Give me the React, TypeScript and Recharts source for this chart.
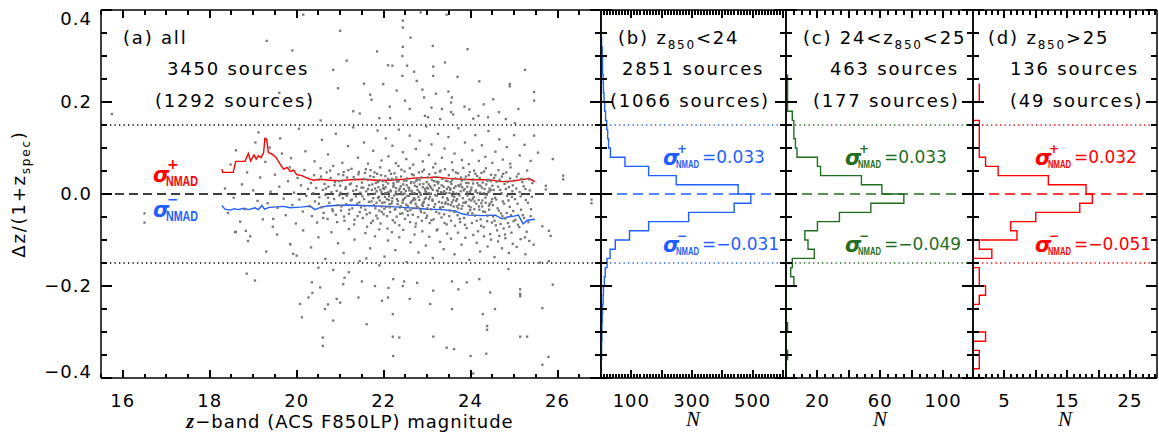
import React from 'react';
import { ComposedChart, Scatter, Line, XAxis, YAxis, ReferenceLine } from 'recharts';

const WIDTH = 1159;
const HEIGHT = 441;
const TOP = 10;
const BOTTOM = 378;

const RED = '#ff0000';
const BLUE = '#1f5fff';
const GREEN = '#1f6f1f';

// ---- ticks ----
const range = (a: number, b: number, step: number) => {
  const out: number[] = [];
  for (let v = a; v <= b + 1e-9; v += step) out.push(Math.round(v * 1000) / 1000);
  return out;
};
const DZ_DOMAIN: [number, number] = [-0.4, 0.4];
const dzTicks = range(-0.4, 0.4, 0.05);
const dzMajors = [-0.4, -0.2, 0, 0.2, 0.4];
const dzLabels = [-0.4, -0.2, 0, 0.2, 0.4];
const magTicks = range(15.5, 27, 0.5);
const magMajors = [16, 18, 20, 22, 24, 26];
const magLabels = [16, 18, 20, 22, 24, 26];
const nTicksB = range(0, 610, 10);
const nMajorsB = [100, 200, 300, 400, 500, 600];
const nLabelsB = [100, 300, 500];
const nTicksC = range(0, 115, 5);
const nMajorsC = [20, 40, 60, 80, 100];
const nLabelsC = [20, 60, 100];
const nTicksD = range(0, 29, 1);
const nMajorsD = [5, 10, 15, 20, 25];
const nLabelsD = [5, 15, 25];

// ---- panel (a): sources, z magnitude vs dz/(1+z) ----
const coreSources: [number, number][] = [
  [18.35,0.012],[18.42,-0.041],[18.48,0.064],[18.55,-0.008],[18.6,0.095],[18.7,-0.06],[18.74,0.021],[18.8,-0.033],[18.86,0.047],[18.93,-0.092],
  [19.0,0.008],[19.05,0.112],[19.1,-0.015],[19.16,0.036],[19.22,-0.055],[19.28,0.07],[19.33,-0.02],[19.4,0.005],[19.45,-0.071],[19.5,0.042],
  [19.56,-0.03],[19.6,0.016],[19.66,0.088],[19.7,-0.01],[19.75,-0.046],[19.8,0.028],[19.84,0.058],[19.9,-0.024],[19.94,0.003],[19.98,-0.064],
  [20.02,0.035],[20.06,-0.012],[20.1,0.019],[20.14,-0.038],[20.18,0.052],[20.22,-0.004],[20.26,0.011],[20.3,-0.027],
  [20.33,0.024],[20.35,-0.048],[20.38,0.002],[20.4,0.041],[20.42,-0.016],[20.45,0.013],[20.47,-0.062],[20.5,0.031],[20.52,-0.007],[20.55,0.056],
  [20.57,-0.029],[20.6,0.009],[20.62,-0.041],[20.64,0.022],[20.66,-0.002],[20.69,0.047],[20.71,-0.054],[20.73,0.016],[20.75,-0.019],[20.78,0.035],
  [20.8,0.004],[20.82,-0.033],[20.84,0.061],[20.86,-0.011],[20.88,0.026],[20.9,-0.045],[20.92,0.007],[20.94,-0.024],[20.96,0.043],[20.98,-0.003],
  [21.0,0.018],[21.02,-0.036],[21.04,0.029],[21.06,-0.009],[21.08,0.048],[21.1,-0.058],[21.12,0.011],[21.14,-0.022],[21.16,0.036],[21.18,0.001],
  [21.2,-0.043],[21.22,0.021],[21.24,-0.014],[21.26,0.055],[21.28,-0.031],[21.3,0.007],[21.32,-0.066],[21.34,0.032],[21.36,-0.005],[21.38,0.017],
  [21.4,-0.048],[21.42,0.043],[21.44,-0.018],[21.46,0.003],[21.48,-0.029],[21.5,0.025],
  [21.52,-0.052],[21.53,0.014],[21.55,-0.011],[21.57,0.046],[21.58,-0.034],[21.6,0.006],[21.62,-0.071],[21.63,0.031],[21.65,-0.002],[21.67,0.019],
  [21.68,-0.041],[21.7,0.052],[21.72,-0.016],[21.73,0.009],[21.75,-0.058],[21.77,0.037],[21.78,-0.024],[21.8,0.001],[21.82,0.024],[21.83,-0.047],
  [21.85,0.044],[21.87,-0.008],[21.88,0.015],[21.9,-0.036],[21.92,0.058],[21.93,-0.064],[21.95,0.004],[21.97,-0.019],[21.98,0.028],
  [22.0,-0.044],[22.01,0.011],[22.03,-0.006],[22.04,0.039],[22.06,-0.028],[22.07,0.002],[22.09,-0.075],[22.1,0.023],[22.12,-0.013],[22.13,0.051],
  [22.15,-0.039],[22.16,0.008],[22.18,-0.021],[22.19,0.033],[22.21,-0.057],[22.22,0.016],[22.24,-0.003],[22.25,0.045],[22.27,-0.032],[22.28,0.005],
  [22.3,-0.049],[22.31,0.027],[22.33,-0.015],[22.34,0.061],[22.36,-0.068],[22.37,0.012],[22.39,-0.026],[22.4,0.038],[22.42,-0.001],[22.43,-0.042],
  [22.45,0.021],[22.46,-0.011],[22.48,0.049],[22.49,-0.054],
  [22.51,0.007],[22.52,-0.023],[22.54,0.034],[22.55,-0.037],[22.57,0.014],[22.58,-0.004],[22.6,0.056],[22.61,-0.061],[22.63,0.024],[22.64,-0.016],
  [22.66,0.003],[22.67,-0.045],[22.69,0.041],[22.7,-0.009],[22.72,0.018],[22.73,-0.071],[22.75,0.029],[22.76,-0.027],[22.78,0.009],[22.79,-0.05],
  [22.81,0.047],[22.82,-0.013],[22.84,0.002],[22.85,-0.034],[22.87,0.036],[22.88,-0.058],[22.9,0.015],[22.91,-0.019],[22.93,0.053],[22.94,-0.041],
  [22.96,0.006],[22.97,-0.008],[22.99,0.026],
  [23.0,-0.047],[23.02,0.012],[23.03,-0.024],[23.05,0.043],[23.06,-0.063],[23.08,0.001],[23.09,-0.033],[23.11,0.031],[23.12,-0.012],[23.14,0.058],
  [23.15,-0.055],[23.17,0.019],[23.18,-0.002],[23.2,0.037],[23.21,-0.039],[23.23,0.008],[23.24,-0.077],[23.26,0.026],[23.27,-0.017],[23.29,0.049],
  [23.3,-0.029],[23.32,0.004],[23.33,-0.051],[23.35,0.033],[23.36,-0.007],[23.38,0.016],[23.39,-0.044],[23.41,0.054],[23.42,-0.021],[23.44,0.002],
  [23.45,-0.066],[23.47,0.028],[23.48,-0.013],
  [23.5,0.041],[23.52,-0.036],[23.53,0.009],[23.55,-0.058],[23.56,0.022],[23.58,-0.004],[23.59,0.052],[23.61,-0.027],[23.62,0.013],[23.64,-0.069],
  [23.65,0.034],[23.67,-0.015],[23.68,0.001],[23.7,-0.046],[23.71,0.045],[23.73,-0.023],[23.74,0.017],[23.76,-0.061],[23.77,0.006],[23.79,-0.032],
  [23.8,0.029],[23.82,-0.009],[23.83,0.057],[23.85,-0.052],[23.86,0.011],[23.88,-0.019],[23.89,0.038],[23.91,-0.074],[23.92,0.004],[23.94,-0.041],
  [23.95,0.024],[23.97,-0.012],[23.98,0.048],
  [24.0,-0.029],[24.02,0.014],[24.03,-0.063],[24.05,0.032],[24.07,-0.006],[24.08,0.051],[24.1,-0.047],[24.12,0.008],[24.13,-0.021],[24.15,0.039],
  [24.17,-0.081],[24.18,0.019],[24.2,-0.034],[24.22,0.003],[24.23,-0.055],[24.25,0.046],[24.27,-0.014],[24.28,0.025],[24.3,-0.072],[24.32,0.011],
  [24.33,-0.039],[24.35,0.056],[24.37,-0.002],[24.38,-0.059],[24.4,0.031],[24.42,-0.025],[24.43,0.006],[24.45,-0.087],[24.47,0.042],[24.48,-0.017],
  [24.5,0.018],[24.52,-0.049],[24.54,0.035],[24.56,-0.008],[24.58,-0.068],[24.6,0.027],[24.62,-0.031],[24.64,0.052],[24.66,-0.091],[24.68,0.009],
  [24.7,-0.042],[24.72,0.038],[24.74,-0.016],[24.76,-0.075],[24.78,0.022],[24.8,-0.053],[24.82,0.047],[24.84,-0.004],[24.86,-0.063],[24.88,0.015],
  [24.9,-0.028],[24.92,0.058],[24.94,-0.084],[24.96,0.006],[24.98,-0.037],
  [25.0,0.029],[25.03,-0.056],[25.05,0.012],[25.08,-0.021],[25.1,0.044],[25.12,-0.072],[25.15,-0.005],[25.17,0.033],[25.2,-0.046],[25.22,0.017],
  [25.25,-0.094],[25.27,-0.013],[25.3,0.051],[25.33,-0.061],[25.36,0.008],[25.39,-0.033],[25.42,0.024],
];

const coreSourcesB: [number, number][] = [
  [20.51,-0.021],[20.56,0.038],[20.61,-0.052],[20.67,0.012],[20.72,-0.008],[20.77,0.051],[20.83,-0.037],[20.87,0.019],[20.93,-0.061],[20.97,0.028],
  [21.01,0.003],[21.03,-0.027],[21.07,0.041],[21.09,-0.049],[21.13,0.015],[21.15,-0.004],[21.19,0.052],[21.21,-0.034],[21.25,0.023],[21.27,-0.012],
  [21.31,0.037],[21.33,-0.056],[21.37,0.009],[21.39,-0.021],[21.43,0.048],[21.45,-0.039],[21.49,0.014],
  [21.51,-0.005],[21.54,0.033],[21.56,-0.026],[21.59,0.054],[21.61,-0.044],[21.64,0.011],[21.66,-0.017],[21.69,0.039],[21.71,-0.063],[21.74,0.021],
  [21.76,-0.009],[21.79,0.047],[21.81,-0.031],[21.84,0.006],[21.86,-0.053],[21.89,0.029],[21.91,-0.014],[21.94,0.041],[21.96,-0.039],[21.99,0.013],
  [22.02,-0.018],[22.05,0.027],[22.08,-0.048],[22.11,0.004],[22.14,-0.029],[22.17,0.044],[22.2,-0.009],[22.23,0.019],[22.26,-0.062],[22.29,0.036],
  [22.32,-0.022],[22.35,0.008],[22.38,-0.043],[22.41,0.053],[22.44,-0.014],[22.47,0.029],[22.5,-0.033],[22.035,0.002],[22.125,-0.005],[22.215,0.031],
  [22.305,-0.011],[22.395,0.017],[22.485,0.001],
  [22.53,0.019],[22.56,-0.046],[22.59,0.008],[22.62,-0.019],[22.65,0.043],[22.68,-0.031],[22.71,0.002],[22.74,-0.064],[22.77,0.032],[22.8,-0.006],
  [22.83,0.021],[22.86,-0.039],[22.89,0.049],[22.92,-0.017],[22.95,0.011],[22.98,-0.052],[22.545,-0.004],[22.635,0.026],[22.725,-0.012],[22.815,0.005],
  [22.905,-0.026],[22.995,0.014],
  [23.01,0.036],[23.04,-0.011],[23.07,0.017],[23.1,-0.057],[23.13,0.009],[23.16,-0.028],[23.19,0.046],[23.22,-0.004],[23.25,0.023],[23.28,-0.042],
  [23.31,0.051],[23.34,-0.019],[23.37,0.003],[23.4,-0.063],[23.43,0.029],[23.46,-0.009],[23.49,0.015],[23.035,0.002],[23.125,-0.015],[23.215,0.027],
  [23.305,-0.031],[23.395,0.006],[23.485,-0.022],
  [23.51,-0.048],[23.54,0.026],[23.57,-0.018],[23.6,0.004],[23.63,-0.039],[23.66,0.047],[23.69,-0.011],[23.72,0.019],[23.75,-0.054],[23.78,0.036],
  [23.81,-0.026],[23.84,0.008],[23.87,-0.067],[23.9,0.024],[23.93,-0.003],[23.96,0.041],[23.99,-0.035],[23.535,0.012],[23.625,-0.006],[23.715,-0.031],
  [23.805,0.015],[23.895,-0.017],[23.985,0.005],
  [24.01,0.009],[24.04,-0.042],[24.06,0.023],[24.09,-0.016],[24.11,0.044],[24.14,-0.058],[24.16,0.002],[24.19,-0.027],[24.21,0.035],[24.24,-0.069],
  [24.26,0.014],[24.29,-0.038],[24.31,0.049],[24.34,-0.008],[24.36,0.021],[24.39,-0.047],[24.41,0.004],[24.44,-0.021],[24.46,0.028],[24.49,-0.062],
  [24.055,-0.01],[24.245,-0.02],[24.435,0.012],
  [24.51,-0.024],[24.53,0.009],[24.55,-0.058],[24.57,0.041],[24.59,-0.012],[24.61,-0.079],[24.63,0.016],[24.65,-0.036],[24.67,0.031],[24.69,-0.065],
  [24.71,0.002],[24.73,-0.048],[24.75,0.044],[24.77,-0.021],[24.79,-0.088],[24.81,0.011],[24.83,-0.041],[24.85,0.026],[24.87,-0.014],[24.89,-0.071],
  [24.91,0.034],[24.93,-0.046],[24.95,-0.006],[24.97,0.019],[24.99,-0.059],
  [25.02,-0.011],[25.06,0.038],[25.09,-0.067],[25.13,0.004],[25.16,-0.034],[25.19,0.026],[25.23,-0.052],[25.26,0.011],[25.29,-0.082],[25.32,-0.019],
  [25.35,0.032],[25.38,-0.048],[25.41,-0.006],
];

const coreSourcesC: [number, number][] = [
  [21.805,0.012],[21.835,-0.019],[21.865,0.026],[21.895,-0.006],[21.925,0.009],[21.955,-0.027],[21.985,0.019],[22.015,-0.032],[22.045,0.015],[22.075,-0.011],
  [22.105,0.033],[22.135,-0.022],[22.165,0.006],[22.195,-0.016],[22.225,0.024],[22.255,-0.034],[22.285,0.013],[22.315,-0.001],[22.345,0.028],[22.375,-0.029],
  [22.405,0.004],[22.435,-0.019],[22.465,0.011],[22.495,-0.008],[22.525,0.029],[22.555,-0.026],[22.585,0.013],[22.615,-0.035],[22.645,0.007],[22.675,-0.013],
  [22.705,0.025],[22.735,-0.021],[22.765,0.016],[22.795,-0.03],[22.825,0.031],[22.855,-0.002],[22.885,-0.023],[22.915,0.022],[22.945,-0.011],[22.975,0.004],
  [23.005,-0.031],[23.035,0.021],[23.065,-0.006],[23.095,0.013],[23.155,0.028],[23.185,-0.022],[23.245,0.006],[23.275,0.013],[23.335,0.019],[23.365,-0.028],
  [23.425,-0.018],[23.455,0.011],[23.515,0.002],[23.545,-0.024],[23.575,0.03],[23.605,-0.013],[23.655,0.017],[23.685,-0.027],[23.745,-0.003],[23.775,0.021],
  [23.835,-0.019],[23.865,0.032],[23.925,0.016],[23.955,-0.026],[24.015,-0.014],[24.045,0.03],[24.085,-0.033],[24.115,0.005],[24.155,0.024],[24.185,-0.013],
  [24.225,0.018],[24.265,-0.027],[24.305,0.002],[24.345,-0.019],[24.385,0.029],[24.425,-0.034],[24.465,0.009],[24.495,-0.011],
];

const midSources: [number, number][] = [
  [19.12,0.134],[19.38,0.101],[19.62,0.121],[19.87,0.078],[20.05,0.142],[20.2,0.093],[20.41,0.071],[20.58,0.118],[20.72,0.086],[20.9,0.131],
  [21.05,0.068],[21.18,0.104],[21.3,0.145],[21.41,0.079],[21.55,0.112],[21.64,0.066],[21.76,0.094],[21.86,0.138],[21.95,0.073],[22.05,0.121],
  [22.11,0.082],[22.2,0.105],[22.28,0.067],[22.35,0.14],[22.44,0.091],[22.52,0.076],[22.6,0.127],[22.68,0.064],[22.74,0.098],[22.83,0.116],
  [22.9,0.071],[22.98,0.147],[23.04,0.085],[23.1,0.108],[23.19,0.066],[23.25,0.131],[23.34,0.079],[23.4,0.099],[23.49,0.124],[23.57,0.069],
  [23.63,0.088],[23.72,0.143],[23.8,0.074],[23.87,0.112],[23.96,0.065],[24.04,0.095],[24.11,0.128],[24.19,0.072],[24.26,0.106],[24.34,0.081],
  [24.41,0.137],[24.5,0.068],[24.57,0.092],[24.66,0.119],[24.74,0.075],[24.83,0.102],[24.91,0.066],[25.0,0.128],[25.13,0.084],[25.24,0.107],
  [25.38,0.072],[25.55,0.09],
  [18.6,-0.082],[18.88,-0.102],[19.3,-0.125],[19.55,-0.088],[19.85,-0.109],[20.0,-0.134],[20.15,-0.079],[20.33,-0.116],[20.5,-0.094],[20.66,-0.141],
  [20.8,-0.083],[20.95,-0.107],[21.08,-0.128],[21.2,-0.076],[21.33,-0.099],[21.45,-0.146],[21.58,-0.085],[21.69,-0.118],[21.8,-0.092],[21.9,-0.077],
  [22.02,-0.136],[22.1,-0.101],[22.19,-0.083],[22.27,-0.122],[22.36,-0.094],[22.45,-0.078],[22.53,-0.148],[22.62,-0.105],[22.71,-0.088],[22.8,-0.127],
  [22.89,-0.081],[22.97,-0.112],[23.05,-0.093],[23.13,-0.139],[23.22,-0.079],[23.3,-0.104],[23.38,-0.12],[23.46,-0.086],[23.55,-0.097],[23.63,-0.131],
  [23.71,-0.084],[23.79,-0.11],[23.88,-0.095],[23.97,-0.143],[24.06,-0.089],[24.14,-0.106],[24.22,-0.125],[24.31,-0.092],[24.39,-0.114],[24.47,-0.099],
  [24.55,-0.137],[24.63,-0.103],[24.72,-0.118],[24.8,-0.096],[24.88,-0.128],[24.97,-0.108],[25.06,-0.115],[25.15,-0.098],[25.26,-0.131],[25.35,-0.102],
  [25.45,-0.11],
];

const outlierSources: [number, number][] = [
  [15.75,0.174],[19.31,0.333],[19.9,0.312],[20.84,0.27],[21.0,0.355],[21.3,0.18],[21.69,0.216],[21.72,0.205],[21.99,0.239],[22.15,0.165],
  [22.2,0.279],[22.1,0.28],[22.14,0.19],[22.44,0.377],[22.44,0.362],[22.44,0.32],[22.43,0.3],[22.43,0.257],[22.49,0.203],[22.54,0.279],
  [22.7,0.266],[22.76,0.246],[22.89,0.227],[22.93,0.21],[22.95,0.17],[23.02,0.167],[23.1,0.188],[23.13,0.322],[23.14,0.277],[23.14,0.257],
  [23.2,0.218],[23.3,0.163],[23.34,0.185],[23.41,0.286],[23.49,0.223],[23.55,0.199],[23.55,0.178],[23.57,0.21],[23.6,0.173],[23.86,0.19],
  [23.93,0.315],[23.97,0.184],[24.06,0.164],[24.18,0.17],[24.4,0.167],[24.52,0.206],[24.81,0.163],[24.9,0.239],[24.9,0.234],[25.02,0.154],
  [25.46,0.222],[25.46,0.203],[25.46,0.127],[25.89,0.076],[26.13,0.04],[26.13,0.032],[25.73,0.018],[25.73,0.01],
  [20.3,0.205],[20.55,0.16],[20.95,0.23],[21.15,0.29],[21.45,0.175],[21.55,0.24],[21.85,0.31],[21.9,0.165],[22.3,0.225],[22.6,0.185],
  [22.62,0.34],[23.7,0.255],[24.2,0.245],[24.3,0.195],[24.65,0.178],[25.1,0.185],[25.25,0.27],[19.6,0.22],[20.15,0.39],[22.85,0.395],[23.45,0.39],
  [16.5,-0.042],[16.5,-0.062],[18.58,-0.083],[18.83,-0.08],[18.85,-0.173],[19.04,-0.188],[19.46,-0.054],[19.85,-0.109],[19.92,-0.13],[20.08,-0.239],
  [20.12,-0.268],[20.27,-0.225],[20.35,-0.192],[20.36,-0.215],[20.54,-0.203],[20.6,-0.312],[20.6,-0.33],[20.65,-0.25],[20.72,-0.24],[20.84,-0.275],
  [20.92,-0.228],[21.0,-0.236],[21.07,-0.196],[21.1,-0.182],[21.42,-0.225],[21.5,-0.19],[21.61,-0.283],[21.8,-0.2],[21.96,-0.232],[22.1,-0.225],
  [22.11,-0.204],[22.21,-0.261],[22.21,-0.31],[22.22,-0.185],[22.22,-0.352],[22.36,-0.312],[22.44,-0.2],[22.47,-0.19],[22.6,-0.228],[22.77,-0.193],
  [23.07,-0.239],[23.14,-0.21],[23.14,-0.31],[23.45,-0.334],[23.57,-0.25],[23.57,-0.19],[23.62,-0.337],[23.72,-0.207],[23.91,-0.192],[24.0,-0.352],
  [24.06,-0.39],[24.2,-0.185],[24.28,-0.261],[24.36,-0.347],[24.38,-0.287],[24.38,-0.295],[24.45,-0.214],[24.56,-0.25],[24.87,-0.163],[25.14,-0.207],
  [25.14,-0.217],[25.14,-0.222],[25.14,-0.31],[25.3,-0.31],[25.6,-0.149],[25.65,-0.07],[25.65,-0.248],[25.65,-0.371],[25.79,-0.354],[25.8,-0.08],
  [25.8,-0.146],[25.84,-0.091],[25.89,-0.197],[26.78,-0.012],[26.78,-0.02],[21.6,-0.14],[21.9,-0.155],[20.5,-0.16],[20.84,-0.165],[21.2,-0.17],
];

// running sigma_NMAD curves
const sigmaPlusMag = [18.28,18.3,18.54,18.6,18.81,18.89,18.94,19.02,19.07,19.12,19.18,19.24,19.27,19.31,19.35,19.43,19.53,19.62,19.7,19.78,19.85,19.93,20.0,20.12,20.23,20.39,20.54,20.77,21.0,21.23,21.54,21.84,22.15,22.46,22.76,23.07,23.19,23.5,23.8,24.11,24.42,24.72,24.95,25.15,25.29,25.34,25.48];
const sigmaPlusVal = [0.054,0.047,0.047,0.071,0.071,0.088,0.072,0.085,0.076,0.083,0.079,0.09,0.121,0.119,0.09,0.087,0.079,0.065,0.054,0.058,0.049,0.052,0.042,0.04,0.035,0.03,0.032,0.03,0.029,0.031,0.032,0.03,0.03,0.032,0.035,0.036,0.037,0.034,0.032,0.031,0.031,0.027,0.028,0.031,0.033,0.034,0.027];
const sigmaMinusMag = [18.28,18.35,18.48,18.56,18.66,18.78,18.9,19.04,19.12,19.2,19.26,19.37,19.55,19.7,19.85,20.0,20.15,20.31,20.42,20.55,20.7,20.88,21.2,21.5,21.8,22.1,22.42,22.73,23.03,23.34,23.65,23.8,23.96,24.27,24.57,24.72,24.85,25.0,25.1,25.21,25.3,25.48];
const sigmaMinusVal = [-0.025,-0.033,-0.035,-0.032,-0.034,-0.031,-0.034,-0.03,-0.034,-0.025,-0.033,-0.029,-0.028,-0.027,-0.03,-0.029,-0.028,-0.026,-0.034,-0.029,-0.026,-0.025,-0.024,-0.025,-0.026,-0.027,-0.029,-0.031,-0.033,-0.034,-0.037,-0.043,-0.046,-0.047,-0.046,-0.054,-0.05,-0.048,-0.046,-0.065,-0.057,-0.055];

// ---- histograms: bins of 0.02 in dz, tops from 0.40 down to -0.38 ----
const BIN = 0.02;
const binTops = [0.4,0.38,0.36,0.34,0.32,0.3,0.28,0.26,0.24,0.22,0.2,0.18,0.16,0.14,0.12,0.1,0.08,0.06,0.04,0.02,
  0,-0.02,-0.04,-0.06,-0.08,-0.1,-0.12,-0.14,-0.16,-0.18,-0.2,-0.22,-0.24,-0.26,-0.28,-0.3,-0.32,-0.34,-0.36,-0.38];
const countsBright = [1,1,1,2,4,5,5,7,8,10,12,15,19,22,25,31,79,157,248,452,
  494,439,289,157,94,47,30,20,14,11,8,7,5,4,3,3,2,2,1,1];
const countsMid = [null,null,null,null,null,null,null,1,1,1,1,4,5,5,6,7,20,22,48,61,
  75,54,34,20,12,14,18,4,3,5,0,0,0,0,1,0,0,1,0,0];
const countsFaint = [null,null,null,null,null,null,null,null,1,1,0,0,1,1,1,1,2,4,12,18,
  19,17,10,6,7,1,3,0,1,1,2,1,0,0,0,2,0,1,1,0];

const toPoints = (list: [number, number][]) => list.map(([mag, dz]) => ({ mag, dz }));
const toCurve = (mags: number[], vals: number[]) => mags.map((mag, i) => ({ mag, dz: vals[i] }));
const outline = (counts: (number | null)[]) => {
  const pts: { n: number; dz: number }[] = [];
  counts.forEach((c, i) => {
    if (c === null) return;
    pts.push({ n: c, dz: binTops[i] }, { n: c, dz: Math.round((binTops[i] - BIN) * 100) / 100 });
  });
  return pts;
};

const near = (list: number[], v: number) => list.some((m) => Math.abs(m - v) < 1e-6);
const fmtDz = (v: number) => (v < 0 ? '\u2212' : '') + Math.abs(v).toFixed(1);
const fmtInt = (v: number) => String(v);

const labelTick = (side: 'left' | 'bottom', labels: number[], fmt: (v: number) => string) => (props: any) => {
  const { x, y, payload } = props;
  const v = payload.value as number;
  if (!near(labels, v)) return <g />;
  if (side === 'left') {
    const shift = v >= 0.399 ? 9 : v <= -0.399 ? -6 : 0;
    return <text x={x - 9} y={y + 6 + shift} textAnchor="end" fontSize={18} fontFamily="DejaVu Sans" letterSpacing={1} fill="#000">{fmt(v)}</text>;
  }
  return <text x={x} y={y + 29} textAnchor="middle" fontSize={18} fontFamily="DejaVu Sans" letterSpacing={1} fill="#000">{fmt(v)}</text>;
};

const axisLine = { stroke: '#000', strokeWidth: 1.5 };

// frame: one axis per side (1px of room, labels only)
const frameAxes = (xKey: string, xDomain: [number, number], xLabels: number[], yLabelled: boolean) => [
  <XAxis key="xb" xAxisId="b" type="number" dataKey={xKey} domain={xDomain} allowDataOverflow ticks={xLabels} interval={0}
    tickSize={0} tickMargin={0} height={1} tickLine={false} axisLine={axisLine} tick={labelTick('bottom', xLabels, fmtInt)} />,
  <XAxis key="xt" xAxisId="t" orientation="top" type="number" domain={xDomain} allowDataOverflow
    height={1} tickLine={false} axisLine={axisLine} tick={false} />,
  <YAxis key="yl" yAxisId="l" type="number" dataKey="dz" domain={DZ_DOMAIN} allowDataOverflow ticks={dzLabels} interval={0}
    tickSize={0} tickMargin={0} width={1} tickLine={false} axisLine={axisLine}
    tick={yLabelled ? labelTick('left', dzLabels, fmtDz) : false} />,
  <YAxis key="yr" yAxisId="r" orientation="right" type="number" domain={DZ_DOMAIN} allowDataOverflow
    width={1} tickLine={false} axisLine={axisLine} tick={false} />,
];

const guideLines = (color: string, dash: string) => [
  <ReferenceLine key="g0" xAxisId="b" yAxisId="l" y={0} stroke={color} strokeWidth={1.3} strokeDasharray={dash} />,
  <ReferenceLine key="gp" xAxisId="b" yAxisId="l" y={0.15} stroke={color} strokeWidth={1.3} strokeDasharray="1.3 3.2" />,
  <ReferenceLine key="gm" xAxisId="b" yAxisId="l" y={-0.15} stroke={color} strokeWidth={1.3} strokeDasharray="1.3 3.2" />,
];

const dot = (p: any) => <rect x={p.cx - 1.1} y={p.cy - 1.1} width={2.3} height={2.3} fill="#767676" />;

const margins = (left: number, right: number) => ({
  top: TOP - 1, bottom: HEIGHT - BOTTOM - 1, left: left - 1, right: WIDTH - right - 1,
});

const layer: React.CSSProperties = { position: 'absolute', left: 0, top: 0 };

// panel frames (same geometry as the chart margins) for the inward axis tick marks
const frames = [
  { left: 101, right: 601, domain: [15.5, 27], ticks: magTicks, majors: magMajors },
  { left: 601, right: 786, domain: [0, 610], ticks: nTicksB, majors: nMajorsB },
  { left: 786, right: 973, domain: [0, 119], ticks: nTicksC, majors: nMajorsC },
  { left: 973, right: 1157, domain: [0, 29.3], ticks: nTicksD, majors: nMajorsD },
];

// one path per frame: short inward marks on all four sides
const framePath = ({ left, right, domain, ticks, majors }: any) => {
  const sx = (v: number) => left + ((v - domain[0]) / (domain[1] - domain[0])) * (right - left);
  const sy = (v: number) => TOP + ((DZ_DOMAIN[1] - v) / (DZ_DOMAIN[1] - DZ_DOMAIN[0])) * (BOTTOM - TOP);
  const parts: string[] = [];
  ticks.forEach((v: number) => {
    const len = near(majors, v) ? 8 : 4.5;
    const x = sx(v).toFixed(1);
    parts.push(`M${x} ${BOTTOM}V${BOTTOM - len}`, `M${x} ${TOP}V${TOP + len}`);
  });
  dzTicks.forEach((v) => {
    const len = near(dzMajors, v) ? 11 : 6;
    const y = sy(v).toFixed(1);
    parts.push(`M${left} ${y}H${left + len}`, `M${right} ${y}H${right - len}`);
  });
  return parts.join('');
};

function HistPanel({ left, right, domain, labels, counts, color }: any) {
  return (
    <div style={layer}>
      <ComposedChart width={WIDTH} height={HEIGHT} margin={margins(left, right)}>
        {frameAxes('n', domain, labels, false)}
        {guideLines(color, '10 6')}
        <Line xAxisId="b" yAxisId="l" data={outline(counts)} dataKey="dz" stroke={color} strokeWidth={1.4} dot={false}
          isAnimationActive={false} type="linear" />
      </ComposedChart>
    </div>
  );
}

function Sigma({ x, y, sign, value, color, big }: any) {
  return (
    <g fill={color}>
      <text x={x} y={y} fontSize={21} fontStyle="italic" fontWeight="bold" fontFamily="DejaVu Sans">σ</text>
      <text x={x + 14} y={y - (big ? 13 : 12)} fontSize={big ? 14 : 12} fontWeight="bold" fontFamily="DejaVu Sans">{sign}</text>
      <text x={x + 13} y={y + (big ? 4 : 3)} fontSize={big ? 14 : 10} fontWeight="bold" fontFamily="Liberation Sans"
        textLength={big ? 32 : 23} lengthAdjust="spacingAndGlyphs">NMAD</text>
      {value ? <text x={x + 39} y={y - 2} fontSize={17} fontFamily="DejaVu Sans">{value}</text> : null}
    </g>
  );
}

const head = { fontFamily: 'DejaVu Sans', fontSize: 18, letterSpacing: 1.8, fill: '#000' } as const;

function Z850({ rest }: { rest: string }) {
  return (
    <>
      <tspan>z</tspan>
      <tspan fontSize={12} dy={5}>850</tspan>
      <tspan dy={-5}>{rest}</tspan>
    </>
  );
}

export default function App() {
  return (
    <div style={{ position: 'absolute', left: 0, top: 0, width: WIDTH, height: HEIGHT, background: '#fff' }}>
      <div style={layer}>
        <ComposedChart width={WIDTH} height={HEIGHT} margin={margins(101, 601)}>
          {frameAxes('mag', [15.5, 27], magLabels, true)}
          <Scatter xAxisId="b" yAxisId="l" data={toPoints(coreSources)} shape={dot} isAnimationActive={false} />
          <Scatter xAxisId="b" yAxisId="l" data={toPoints(coreSourcesB)} shape={dot} isAnimationActive={false} />
          <Scatter xAxisId="b" yAxisId="l" data={toPoints(coreSourcesC)} shape={dot} isAnimationActive={false} />
          <Scatter xAxisId="b" yAxisId="l" data={toPoints(midSources)} shape={dot} isAnimationActive={false} />
          <Scatter xAxisId="b" yAxisId="l" data={toPoints(outlierSources)} shape={dot} isAnimationActive={false} />
          {guideLines('#000', '9 5')}
          <Line xAxisId="b" yAxisId="l" data={toCurve(sigmaPlusMag, sigmaPlusVal)} dataKey="dz" stroke={RED} strokeWidth={1.4} dot={false} isAnimationActive={false} type="linear" />
          <Line xAxisId="b" yAxisId="l" data={toCurve(sigmaMinusMag, sigmaMinusVal)} dataKey="dz" stroke={BLUE} strokeWidth={1.4} dot={false} isAnimationActive={false} type="linear" />
        </ComposedChart>
      </div>
      <HistPanel left={601} right={786} domain={[0, 610]} labels={nLabelsB} counts={countsBright} color={BLUE} />
      <HistPanel left={786} right={973} domain={[0, 119]} labels={nLabelsC} counts={countsMid} color={GREEN} />
      <HistPanel left={973} right={1157} domain={[0, 29.3]} labels={nLabelsD} counts={countsFaint} color={RED} />

      <svg width={WIDTH} height={HEIGHT} style={{ ...layer, pointerEvents: 'none' }}>
        {frames.map((f) => (
          <path key={f.left} d={framePath(f)} fill="none" stroke="#000" strokeWidth={2} shapeRendering="crispEdges" />
        ))}

        {/* panel headers */}
        <text x={123} y={44} {...head}>(a) all</text>
        <text x={167} y={75} {...head}>3450 sources</text>
        <text x={155} y={107} {...head}>(1292 sources)</text>

        <text x={618} y={44} {...head}>(b) <Z850 rest="<24" /></text>
        <text x={622} y={75} {...head}>2851 sources</text>
        <text x={610} y={107} {...head}>(1066 sources)</text>

        <text x={803} y={44} {...head}>(c) 24&lt;<Z850 rest="<25" /></text>
        <text x={830} y={75} {...head}>463 sources</text>
        <text x={813} y={107} {...head}>(177 sources)</text>

        <text x={988} y={44} {...head}>(d) <Z850 rest=">25" /></text>
        <text x={1010} y={75} {...head}>136 sources</text>
        <text x={1010} y={107} {...head}>(49 sources)</text>

        {/* sigma annotations */}
        <Sigma x={153} y={182} sign="+" color={RED} big />
        <Sigma x={153} y={217} sign={'\u2212'} color={BLUE} big />
        <Sigma x={663} y={165} sign="+" value="=0.033" color={BLUE} />
        <Sigma x={663} y={252} sign={'\u2212'} value={'=\u22120.031'} color={BLUE} />
        <Sigma x={845} y={165} sign="+" value="=0.033" color={GREEN} />
        <Sigma x={845} y={252} sign={'\u2212'} value={'=\u22120.049'} color={GREEN} />
        <Sigma x={1035} y={165} sign="+" value="=0.032" color={RED} />
        <Sigma x={1035} y={252} sign={'\u2212'} value={'=\u22120.051'} color={RED} />

        {/* axis titles */}
        <text transform="translate(25,194) rotate(-90)" textAnchor="middle" {...head}>
          Δz/(1+z<tspan fontSize={12} dy={5}>spec</tspan><tspan dy={-5}>)</tspan>
        </text>
        <text x={350} y={428} textAnchor="middle" fontFamily="DejaVu Sans" fontSize={18} letterSpacing={1}>
          <tspan fontFamily="Liberation Serif" fontStyle="italic" fontWeight="bold" fontSize={20}>z</tspan>−band (ACS F850LP) magnitude
        </text>
        {[693, 880, 1065].map((cx) => (
          <text key={cx} x={cx} y={426} textAnchor="middle" fontFamily="Liberation Serif" fontStyle="italic" fontSize={21}>N</text>
        ))}
      </svg>
    </div>
  );
}
